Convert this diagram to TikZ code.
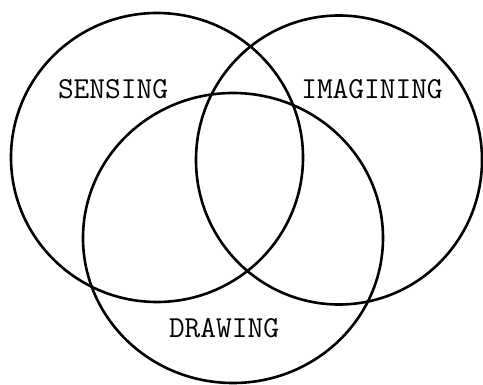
\documentclass[tikz,border=0pt]{standalone}
\begin{document}
\begin{tikzpicture}[x=1pt,y=-1pt,
  ring/.style={draw=black,line width=2.6pt},
  lbl/.style={font=\fontsize{30.5}{32}\selectfont\ttfamily,inner sep=0pt,anchor=center}]
\useasboundingbox[fill=white] (0,0) rectangle (483,385);
\draw[ring] (157,157.5) ellipse [x radius=146, y radius=144.5];
\draw[ring] (339,160) ellipse [x radius=143, y radius=144.5];
\draw[ring] (233,238) ellipse [x radius=150, y radius=145];
\node[lbl] (sensing) at (113,89.5) {SENSING};
\node[lbl] (imagining) at (372,89.5) {IMAGINING};
\node[lbl] (drawing) at (224,328.5) {DRAWING};
\end{tikzpicture}
\end{document}
